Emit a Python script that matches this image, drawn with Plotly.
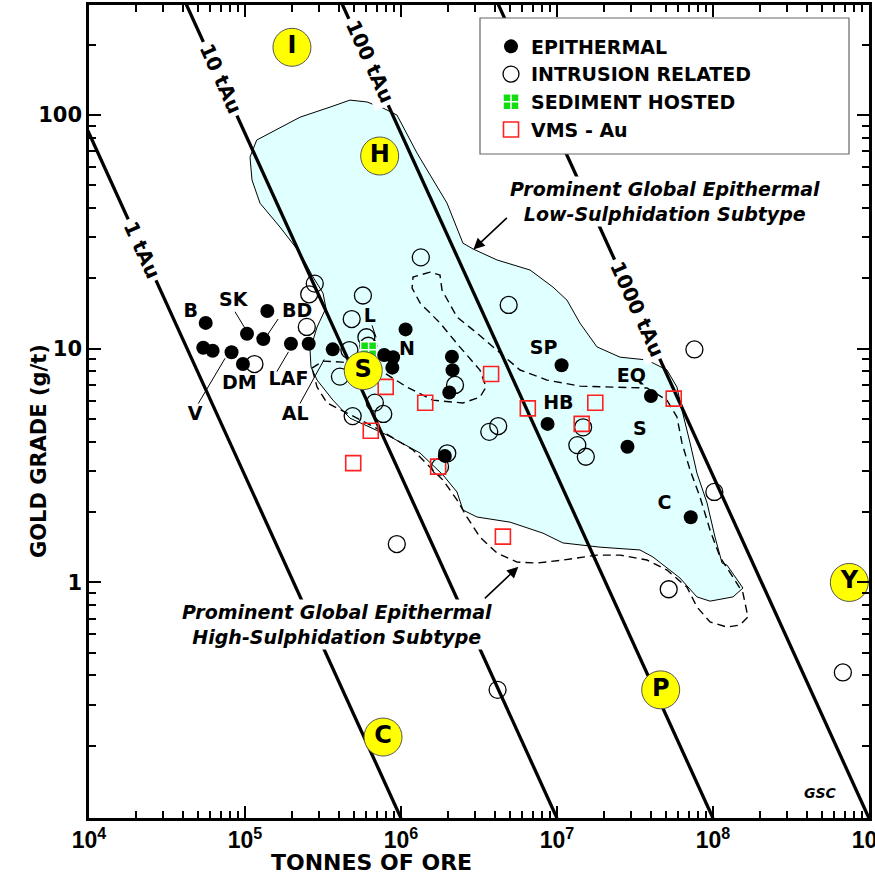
import numpy as np
import plotly.graph_objects as go

# ---------------- data ----------------
# Epithermal deposits: tonnes of ore, gold grade (g/t)
epi_tonnes = [5.6e4, 1.03e5, 1.39e5, 1.31e5, 5.4e4, 6.2e4, 8.2e4, 9.7e4, 1.97e5, 2.56e5, 3.65e5,
              7.8e5, 8.9e5, 8.8e5, 1.07e6, 2.12e6, 2.14e6, 2.04e6, 1.91e6, 1.07e7, 8.7e6,
              4.0e7, 2.83e7, 7.2e7]
epi_grade = [12.9, 11.6, 14.5, 11.0, 10.1, 9.8, 9.66, 8.6, 10.5, 10.5, 9.94,
             9.4, 9.2, 8.3, 12.1, 9.25, 8.1, 6.5, 3.48, 8.5, 4.77,
             6.28, 3.81, 1.90]

# Intrusion related deposits
int_tonnes = [2.8e5, 2.58e5, 5.7e5, 1.34e6, 4.83e5, 2.49e5, 6.0e5, 6.17e5, 1.15e5, 4.67e5,
              4.06e5, 6.8e5, 7.7e5, 4.9e5, 1.98e6, 1.78e6, 4.9e6, 7.6e7, 2.22e6, 3.68e6,
              4.2e6, 1.35e7, 1.53e7, 1.47e7, 9.4e5, 1.02e8, 5.2e7, 6.8e8, 4.16e6]
int_grade = [19.0, 17.1, 16.9, 24.6, 13.4, 12.4, 11.2, 10.3, 8.6, 9.87,
             7.6, 5.88, 5.26, 5.15, 3.57, 3.13, 15.4, 9.93, 7.0, 4.41,
             4.67, 3.87, 3.45, 4.61, 1.46, 2.44, 0.935, 0.412, 0.347]

# Sediment hosted deposits
sed_tonnes = [6.2e5]
sed_grade = [9.9]

# VMS - Au deposits
vms_tonnes = [7.98e5, 1.43e6, 6.4e5, 4.94e5, 1.73e6, 3.78e6, 6.5e6, 1.76e7, 1.44e7, 5.6e7, 4.5e6]
vms_grade = [6.87, 5.87, 4.46, 3.24, 3.13, 7.8, 5.56, 5.87, 4.77, 6.12, 1.57]

# Named deposits (labels)
dep_names = ["B", "SK", "BD", "DM", "V", "LAF", "AL", "L", "N", "SP", "EQ", "HB", "S", "C"]
dep_tonnes = [4.49e4, 8.4e4, 2.16e5, 9.2e4, 4.78e4, 1.9e5, 2.1e5, 6.3e5, 1.09e6,
              8.2e6, 3.0e7, 1.02e7, 3.4e7, 4.88e7]
dep_grade = [14.4, 15.9, 14.4, 7.06, 5.2, 7.35, 5.2, 13.6, 9.87,
             9.97, 7.52, 5.78, 4.49, 2.17]

# Leader lines (label end, deposit end)
leader_from_tonnes = [8.63e4, 1.63e5, 5.02e4, 1.60e5, 2.25e5, 6.52e5]
leader_from_grade = [14.4, 13.4, 5.83, 7.98, 5.83, 12.6]
leader_to_tonnes = [1.01e5, 1.36e5, 7.45e4, 1.90e5, 3.22e5, 6.92e5]
leader_to_grade = [12.1, 11.2, 9.1, 9.7, 9.0, 11.2]

# Gold-belt / district markers (yellow ovals)
zone_names = ["I", "H", "S", "C", "P", "Y"]
zone_tonnes = [2.0e5, 7.3e5, 5.73e5, 7.67e5, 4.62e7, 7.48e8]
zone_grade = [195, 66.8, 8.06, 0.218, 0.347, 1.0]

# Contained-gold lines
metal_labels = ["1 tAu", "10 tAu", "100 tAu", "1000 tAu"]
line_start_tonnes = [4.0e3, 4.0e4, 4.0e5, 4.0e6]
line_start_grade = [320, 320, 320, 320]
line_end_tonnes = [1.0e6, 1.0e7, 1.0e8, 1.0e9]
line_end_grade = [0.098, 0.098, 0.098, 0.098]
metal_label_tonnes = [2.19e4, 6.97e4, 6.3e5, 3.26e7]
metal_label_grade = [26.5, 144.0, 170.0, 14.75]

# Low-sulphidation envelope (log10 tonnes, log10 grade)
ls_log_tonnes = [5.032, 5.075, 5.160, 5.353, 5.545, 5.673, 5.782, 5.885, 5.974, 6.103,
                 6.295, 6.397, 6.462, 6.615, 6.827, 6.974, 7.064, 7.147, 7.256, 7.404,
                 7.577, 7.705, 7.769, 7.801, 7.853, 7.897, 7.962, 8.013, 8.058, 8.090,
                 8.192, 8.128, 7.981, 7.897, 7.788, 7.615, 7.532, 7.276, 7.038, 6.910,
                 6.699, 6.487, 6.397, 6.359, 6.269, 6.122, 5.910, 5.673, 5.564, 5.462,
                 5.423, 5.417, 5.462, 5.519, 5.500, 5.436, 5.353, 5.224, 5.096, 5.045, 5.032]
ls_log_grade = [1.820, 1.893, 1.923, 1.991, 2.034, 2.064, 2.056, 2.030, 2.000, 1.837,
                1.623, 1.452, 1.427, 1.380, 1.337, 1.264, 1.208, 1.110, 1.008, 0.964,
                0.952, 0.909, 0.836, 0.738, 0.597, 0.468, 0.340, 0.194, 0.083, 0.074,
                -0.024, -0.062, -0.080, -0.062, 0.019, 0.109, 0.139, 0.151, 0.169, 0.211,
                0.258, 0.280, 0.310, 0.387, 0.460, 0.554, 0.631, 0.703, 0.780, 0.866,
                0.922, 0.994, 1.093, 1.174, 1.238, 1.307, 1.410, 1.521, 1.623, 1.722, 1.820]

# High-sulphidation envelope (log10 tonnes, log10 grade)
hs_log_tonnes = [5.429, 5.500, 5.622, 5.769, 5.865, 6.038, 6.205, 6.397, 6.506, 6.545,
                 6.506, 6.378, 6.250, 6.122, 6.071, 6.077, 6.186, 6.250, 6.263, 6.359,
                 6.487, 6.615, 6.763, 6.936, 7.147, 7.359, 7.577, 7.705, 7.769, 7.801,
                 7.853, 7.917, 7.981, 8.045, 8.192, 8.224, 8.173, 8.090, 7.981, 7.897,
                 7.833, 7.705, 7.577, 7.404, 7.256, 7.038, 6.872, 6.744, 6.615, 6.506,
                 6.423, 6.359, 6.269, 6.077, 5.865, 5.654, 5.526, 5.462, 5.429]
hs_log_grade = [0.917, 0.947, 0.943, 0.926, 0.909, 0.836, 0.780, 0.768, 0.793, 0.836,
                0.909, 1.007, 1.110, 1.196, 1.260, 1.307, 1.328, 1.315, 1.251, 1.136,
                1.067, 0.994, 0.909, 0.866, 0.840, 0.836, 0.832, 0.780, 0.708, 0.597,
                0.481, 0.365, 0.224, 0.109, -0.045, -0.148, -0.182, -0.191, -0.169, -0.105,
                -0.020, 0.053, 0.096, 0.117, 0.117, 0.096, 0.083, 0.087, 0.126, 0.194,
                0.280, 0.353, 0.438, 0.567, 0.652, 0.725, 0.768, 0.836, 0.917]

x_tick_vals = [1e4, 1e5, 1e6, 1e7, 1e8, 1e9]
x_tick_text = ["10<sup>4</sup>", "10<sup>5</sup>", "10<sup>6</sup>", "10<sup>7</sup>",
               "10<sup>8</sup>", "10<sup>9</sup>"]
y_tick_vals = [1, 10, 100]
y_tick_text = ["1", "10", "100"]

# ---------------- figure ----------------
BOLD = "DejaVu Sans"
fig = go.Figure()

fig.add_trace(go.Scatter(
    x=10 ** np.array(ls_log_tonnes), y=10 ** np.array(ls_log_grade), mode="lines",
    fill="toself", fillcolor="#e0ffff", line=dict(color="black", width=1),
    showlegend=False, hoverinfo="skip"))
fig.add_trace(go.Scatter(
    x=10 ** np.array(hs_log_tonnes), y=10 ** np.array(hs_log_grade), mode="lines",
    line=dict(color="black", width=1.4, dash="8px,5px"),
    showlegend=False, hoverinfo="skip"))

lx, ly = [], []
for xs, ys, xe, ye in zip(line_start_tonnes, line_start_grade, line_end_tonnes, line_end_grade):
    lx += [xs, xe, None]
    ly += [ys, ye, None]
fig.add_trace(go.Scatter(x=lx, y=ly, mode="lines", line=dict(color="black", width=3.3),
                         showlegend=False, hoverinfo="skip"))

ldx, ldy = [], []
for xs, ys, xe, ye in zip(leader_from_tonnes, leader_from_grade, leader_to_tonnes, leader_to_grade):
    ldx += [xs, xe, None]
    ldy += [ys, ye, None]
fig.add_trace(go.Scatter(x=ldx, y=ldy, mode="lines", line=dict(color="black", width=1),
                         showlegend=False, hoverinfo="skip"))

fig.add_trace(go.Scatter(
    x=int_tonnes, y=int_grade, mode="markers", name="INTRUSION RELATED", legendrank=2,
    marker=dict(symbol="circle-open", size=17, color="black", line=dict(width=1.3))))
fig.add_trace(go.Scatter(
    x=vms_tonnes, y=vms_grade, mode="markers", name="VMS - Au", legendrank=4,
    marker=dict(symbol="square-open", size=15, color="#ff2020", line=dict(width=1.6))))
fig.add_trace(go.Scatter(
    x=sed_tonnes, y=sed_grade, mode="markers", name="SEDIMENT HOSTED", legendrank=3,
    marker=dict(symbol="square-cross", size=16, color="#11dd11",
                line=dict(color="white", width=1.5))))
fig.add_trace(go.Scatter(
    x=epi_tonnes, y=epi_grade, mode="markers", name="EPITHERMAL", legendrank=1,
    marker=dict(symbol="circle", size=14, color="black")))

fig.add_trace(go.Scatter(
    x=zone_tonnes, y=zone_grade, mode="markers+text", text=zone_names,
    textposition="middle center",
    textfont=dict(family=BOLD, size=24, color="black", weight="bold"),
    marker=dict(symbol="circle", size=38, color="#ffff00", line=dict(color="#555", width=1)),
    showlegend=False, hoverinfo="skip"))

fig.add_trace(go.Scatter(
    x=dep_tonnes, y=dep_grade, mode="text", text=dep_names, textposition="middle center",
    textfont=dict(family=BOLD, size=19, color="black", weight="bold"),
    showlegend=False, hoverinfo="skip"))

annotations = []
for name, t, g in zip(metal_labels, metal_label_tonnes, metal_label_grade):
    annotations.append(dict(
        x=np.log10(t), y=np.log10(g), xref="x", yref="y", text=name, showarrow=False,
        textangle=65.6, bgcolor="white", borderpad=3,
        font=dict(family=BOLD, size=20, color="black", weight="bold")))

cap_font = dict(family=BOLD, size=19, color="black", weight="bold", style="italic")
annotations.append(dict(
    x=7.692, y=1.632, xref="x", yref="y", showarrow=False, font=cap_font,
    bgcolor="white", borderpad=1,
    text="Prominent Global Epithermal<br>Low-Sulphidation Subtype"))
annotations.append(dict(
    x=5.590, y=-0.182, xref="x", yref="y", showarrow=False, font=cap_font,
    bgcolor="white", borderpad=1,
    text="Prominent Global Epithermal<br>High-Sulphidation Subtype"))
annotations.append(dict(
    x=6.464, y=1.425, xref="x", yref="y", text="", showarrow=True, arrowhead=2,
    arrowsize=1.4, arrowwidth=1.6, arrowcolor="black", ax=35, ay=-33))
annotations.append(dict(
    x=6.752, y=0.067, xref="x", yref="y", text="", showarrow=True, arrowhead=2,
    arrowsize=1.4, arrowwidth=1.6, arrowcolor="black", ax=-35, ay=33))
annotations.append(dict(
    x=8.686, y=-0.901, xref="x", yref="y", text="GSC", showarrow=False,
    font=dict(family=BOLD, size=14, color="black", weight="bold", style="italic")))
annotations.append(dict(
    x=(371 - 89) / 780, y=-0.055, xref="paper", yref="paper", text="TONNES OF ORE",
    showarrow=False, yanchor="middle",
    font=dict(family=BOLD, size=22, color="black", weight="bold")))
annotations.append(dict(
    x=(25 - 89) / 780, y=(818 - 451) / 813, xref="paper", yref="paper",
    text="GOLD GRADE (g/t)", textangle=-90, showarrow=False,
    font=dict(family=BOLD, size=21, color="black", weight="bold")))

x_minor = [m * 10 ** e for e in range(4, 9) for m in range(2, 10)]
y_minor = [m * 10 ** e for e in range(-1, 3) for m in range(2, 10) if m * 10 ** e < 290]

axis_common = dict(type="log", showline=True, linewidth=2.6, linecolor="black", mirror="ticks",
                   ticks="inside", ticklen=12, tickwidth=1.5, tickcolor="black",
                   showgrid=False, zeroline=False, ticklabeloverflow="allow",
                   automargin=False)

fig.update_layout(
    width=875, height=879, margin=dict(l=89, r=6, t=5, b=61, autoexpand=False),
    paper_bgcolor="white", plot_bgcolor="white",
    annotations=annotations,
    shapes=[dict(type="rect", xref="paper", yref="paper",
                 x0=(480 - 89) / 780, x1=(849 - 89) / 780,
                 y0=(818 - 154) / 813, y1=(818 - 18) / 813,
                 fillcolor="white", line=dict(color="#666", width=1.2), layer="above")],
    legend=dict(x=(491 - 89) / 780, y=(818 - 27.5) / 813, xanchor="left", yanchor="top",
                bgcolor="rgba(0,0,0,0)", borderwidth=0, tracegroupgap=0,
                font=dict(family=BOLD, size=19, color="black", weight="bold")),
    xaxis=dict(range=[4, 9], tickvals=x_tick_vals, ticktext=x_tick_text,
               tickfont=dict(family="Liberation Sans", size=23, color="black", weight="bold"),
               minor=dict(tickvals=x_minor, ticks="inside", ticklen=7, tickwidth=1.5,
                          tickcolor="black"),
               **axis_common),
    yaxis=dict(range=[-1.008, 2.471], tickvals=y_tick_vals, ticktext=y_tick_text,
               tickfont=dict(family=BOLD, size=21, color="black", weight="bold"),
               minor=dict(tickvals=y_minor, ticks="inside", ticklen=7, tickwidth=1.5,
                          tickcolor="black"),
               **axis_common),
)

fig.write_html("out.html", config={"displayModeBar": False, "responsive": False},
               post_script="document.body.style.margin='0';document.body.style.overflow='hidden';")
